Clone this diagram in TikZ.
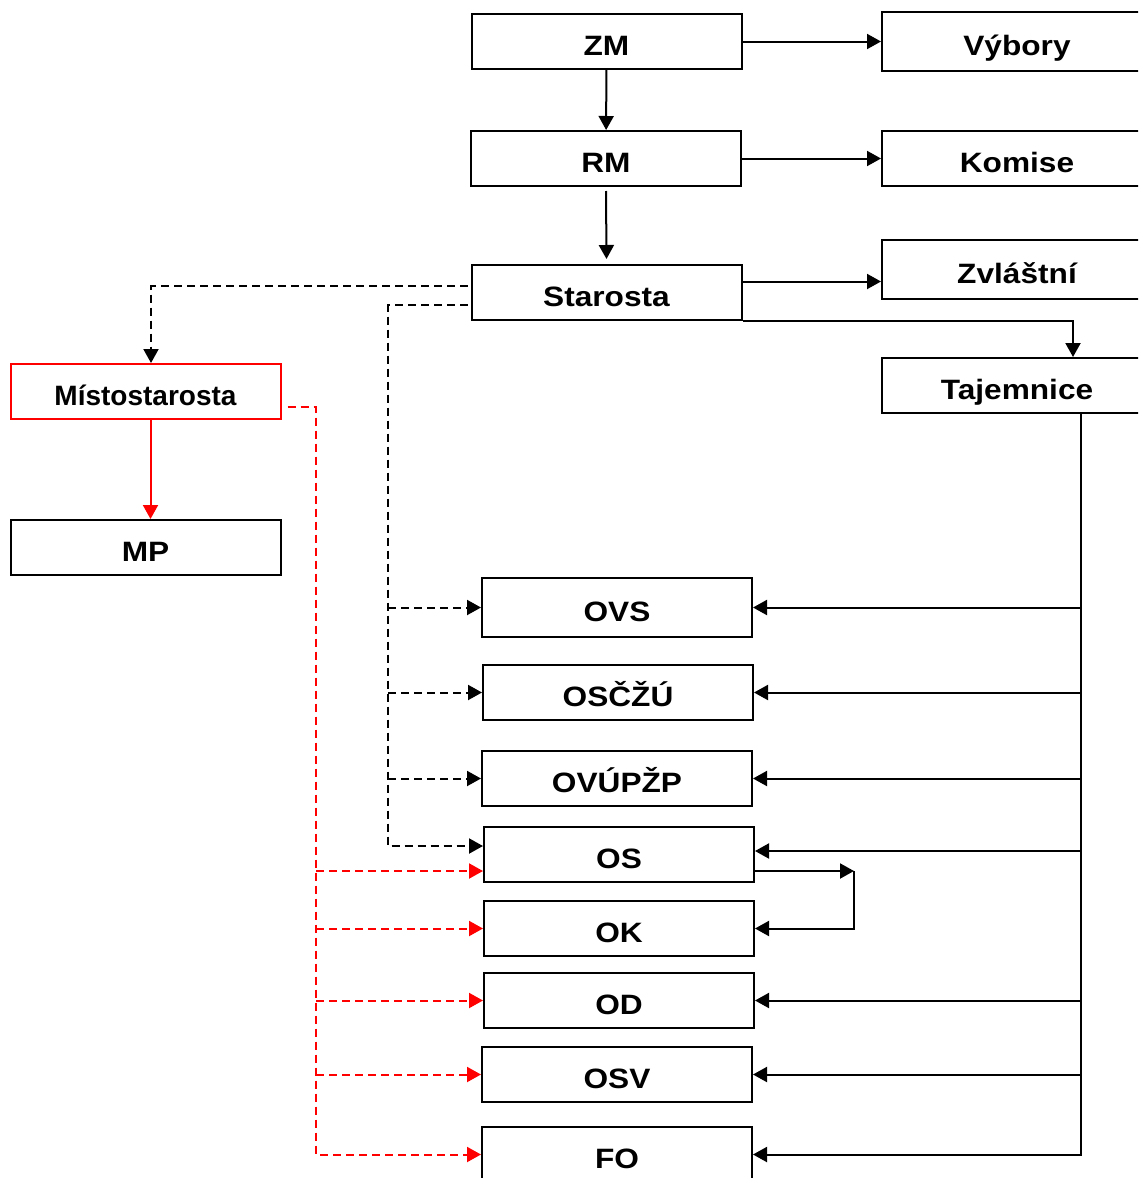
\documentclass[tikz,border=0pt]{standalone}
\usepackage{fontspec}
\setmainfont{Liberation Sans}[FakeStretch=1.13]
\newfontfamily\uzkyfont{Liberation Sans}
\usepackage{tikz}
\usetikzlibrary{arrows.meta}
\definecolor{cervena}{RGB}{255,0,0}

\begin{document}
\begin{tikzpicture}[x=1pt, y=-1pt, >={Triangle[length=14pt,width=15pt]},
  box/.style={draw, line width=2pt, minimum width=270pt, minimum height=55pt, inner sep=0pt,
    text height=27pt, text depth=0pt, font=\bfseries\fontsize{28}{30}\selectfont},
  vysoky/.style={minimum height=59pt},
  arr/.style={->, line width=2pt},
  dsh/.style={->, line width=2pt, dash pattern=on 8pt off 5pt},
  rdsh/.style={->, line width=2pt, cervena, dash pattern=on 8pt off 5pt}]
  \clip (0,0) rectangle (1138,1178);
  % Orgány obce
  \node[box] (ZM) at (606.5,41.5) {ZM};
  \node[box, vysoky] (Vyb) at (1017,41.5) {Výbory};
  \node[box] (RM) at (606,158.5) {RM};
  \node[box] (Kom) at (1017,158.5) {Komise};
  \node[box] (Star) at (606.5,292.5) {Starosta};
  \node[box, vysoky] (Zvl) at (1017,269.5) {Zvláštní};
  \node[box] (Taj) at (1017,385.5) {Tajemnice};
  \node[box, draw=cervena, font=\uzkyfont\bfseries\fontsize{28}{30}\selectfont] (Mist) at (145.5,391.5) {Místostarosta};
  \node[box] (MP) at (145.5,547.5) {MP};
  % Odbory úřadu
  \node[box, vysoky] (OVS) at (617,607.5) {OVS};
  \node[box] (OSCZU) at (618,692.5) {OSČŽÚ};
  \node[box] (OVUPZP) at (617,778.5) {OVÚPŽP};
  \node[box] (OS) at (619,854.5) {OS};
  \node[box] (OK) at (619,928.5) {OK};
  \node[box] (OD) at (619,1000.5) {OD};
  \node[box] (OSV) at (617,1074.5) {OSV};
  \node[box] (FO) at (617,1154.5) {FO};
  % Plné šipky nahoře
  \draw[arr] (ZM) -- (RM);
  \draw[arr] (ZM) -- (Vyb);
  \draw[arr] (RM) -- (Kom);
  \draw[arr] ([yshift=-4pt]RM.south) -- ([yshift=5pt]Star.north);
  \coordinate (stout) at ([yshift=11pt]Star.east);
  \draw[arr] (stout) -- (Zvl.west |- stout);
  \draw[arr] (Star.south east) -| ([xshift=56pt]Taj.north);
  \draw[->, line width=2pt, cervena] ([xshift=5pt]Mist.south) -- ([xshift=5pt]MP.north);
  % Čárkované od starosty
  \coordinate (sbus) at (388,305);
  \draw[dsh] ([yshift=6.5pt,xshift=-3pt]Star.west) -| ([xshift=5.5pt]Mist.north);
  \draw[dsh] ([yshift=-12.5pt,xshift=-3pt]Star.west) -- (sbus) |- ([yshift=8.5pt]OS.west);
  \foreach \n in {OVS,OSCZU,OVUPZP}
    \draw[dsh] (sbus |- \n.west) -- (\n.west);
  % Čárkované od místostarosty
  \coordinate (mbus) at (316,407);
  \coordinate (osin) at ([yshift=-16.5pt]OS.west);
  \draw[rdsh] ([yshift=-15.5pt,xshift=6pt]Mist.east) -- (mbus) |- (FO.west);
  \draw[rdsh] (mbus |- osin) -- (osin);
  \foreach \n in {OK,OD,OSV}
    \draw[rdsh] (mbus |- \n.west) -- (\n.west);
  % Od tajemnice
  \coordinate (tbus) at ([xshift=64pt]Taj.south);
  \draw[arr] (tbus) -- (tbus |- FO.east) -- (FO.east);
  \foreach \n in {OVS,OSCZU,OVUPZP,OD,OSV}
    \draw[arr] (tbus |- \n.east) -- (\n.east);
  \coordinate (osup) at ([yshift=3.5pt]OS.east);
  \draw[arr] (tbus |- osup) -- (osup);
  % Mezi OS a OK
  \coordinate (osout) at ([yshift=-16.5pt]OS.east);
  \coordinate (smycka) at ([xshift=99pt]osout);
  \draw[arr] (osout) -- (smycka);
  \draw[arr] (smycka) |- (OK.east);
\end{tikzpicture}
\end{document}
